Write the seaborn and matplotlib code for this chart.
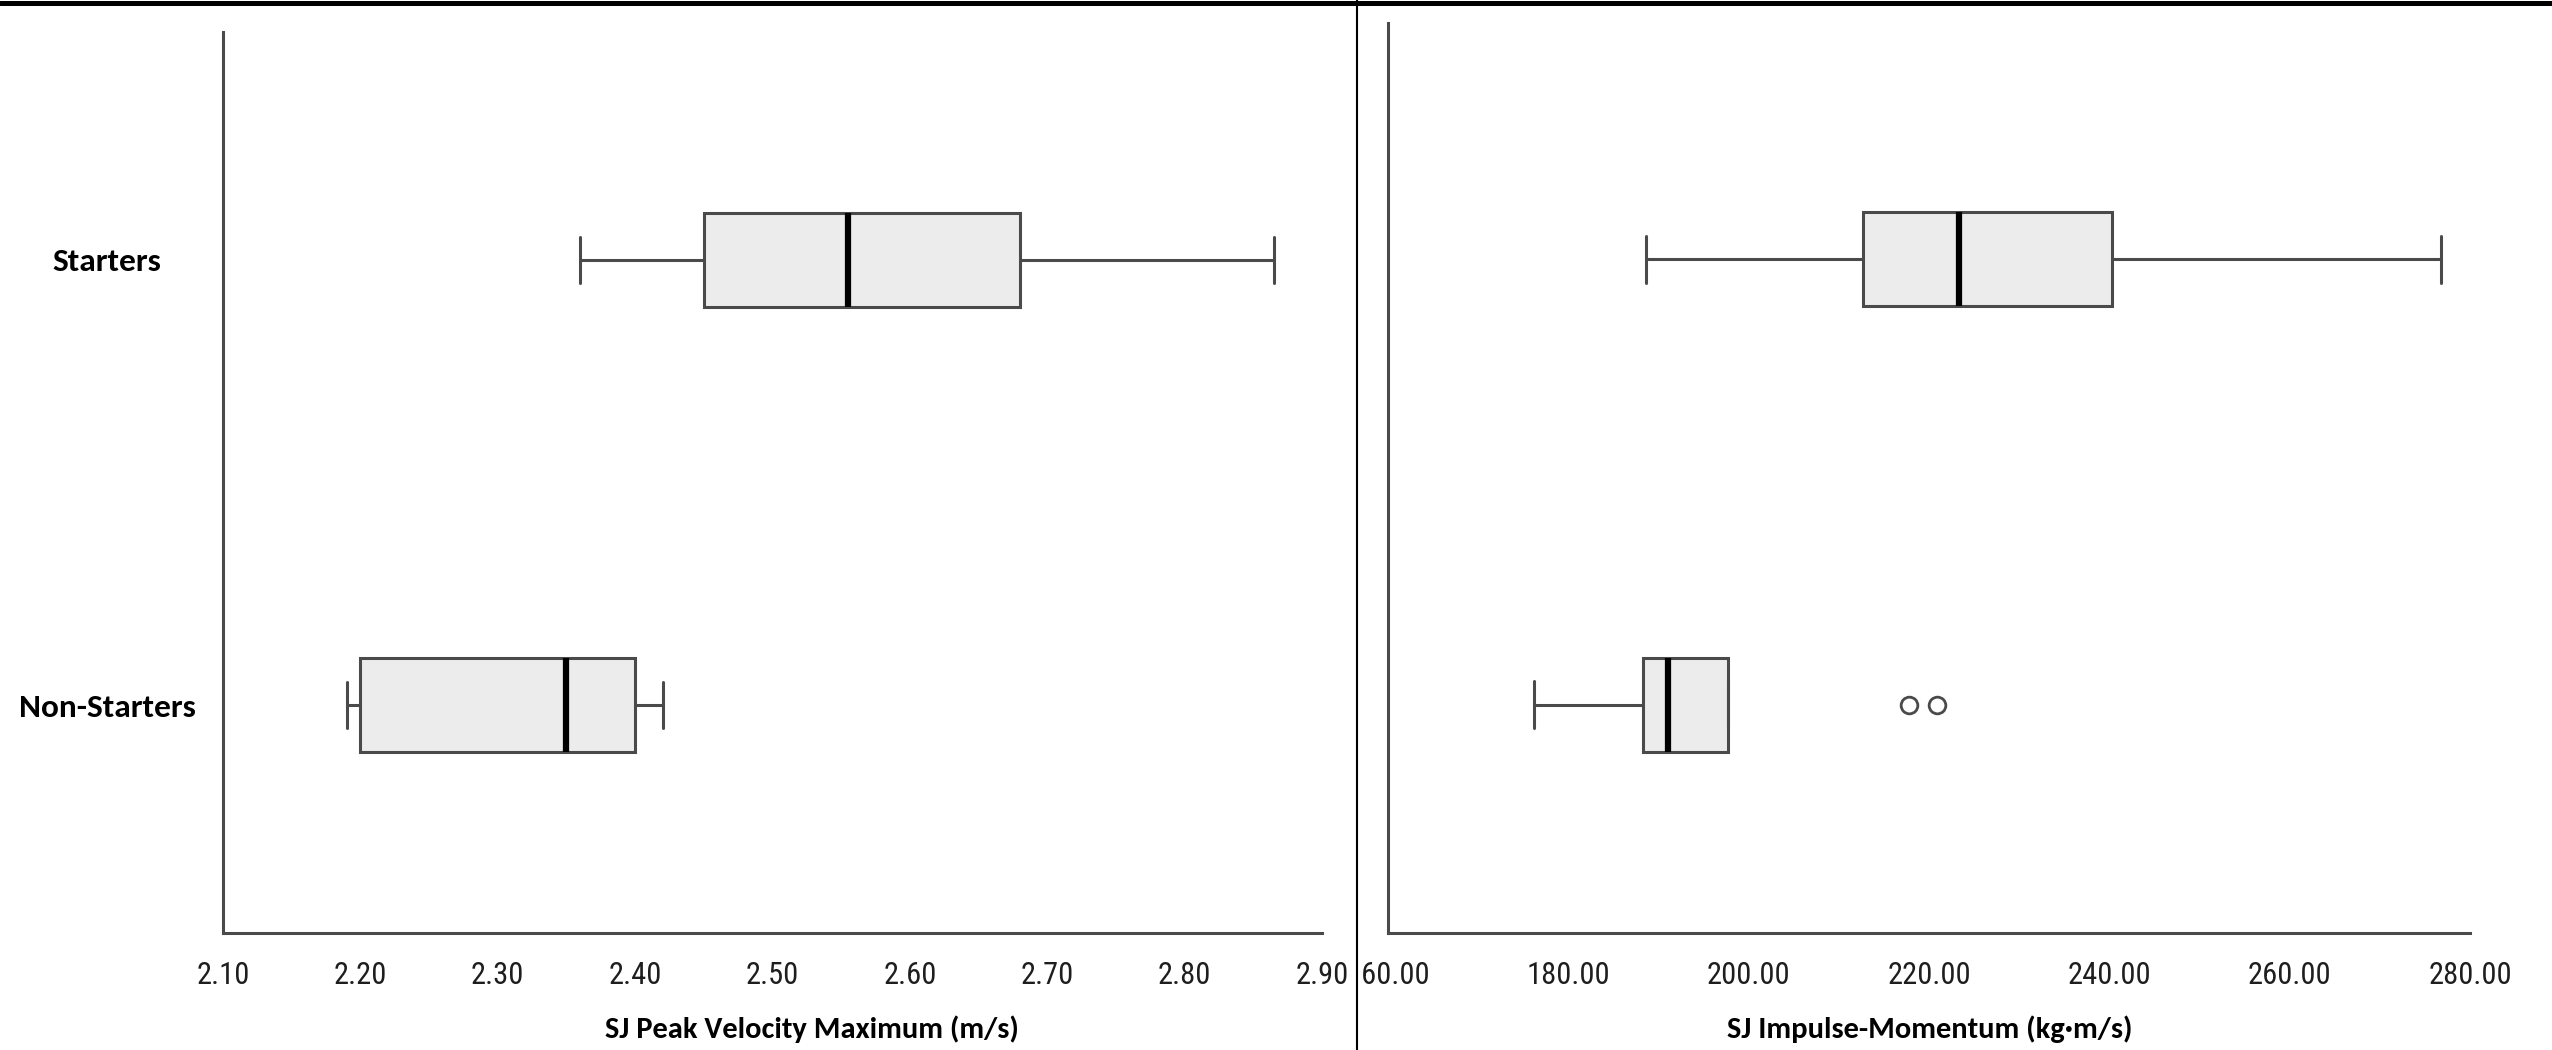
"""
Squat jump box plots: starters vs non-starters (peak velocity, impulse-momentum).
"""

import pandas as pd
import matplotlib.pyplot as plt
from matplotlib import font_manager
from matplotlib.font_manager import FontProperties
from matplotlib.lines import Line2D
from matplotlib.transforms import Bbox, TransformedBbox
import seaborn as sns

# groups, top to bottom
groups = ["Starters", "Non-Starters"]

# five-number summaries: low whisker, Q1, median, Q3, high whisker
velocity_starters = [2.36, 2.45, 2.555, 2.68, 2.865]
velocity_non_starters = [2.19, 2.20, 2.35, 2.40, 2.42]
impulse_starters = [188.6, 212.7, 223.3, 240.3, 276.8]
impulse_non_starters = [176.2, 188.3, 191.1, 197.7, 197.7]
impulse_non_starters_outliers = [217.8, 220.9]

velocity_ticks = [2.10, 2.20, 2.30, 2.40, 2.50, 2.60, 2.70, 2.80, 2.90]
impulse_ticks = [160, 180, 200, 220, 240, 260, 280]

velocity_label = "SJ Peak Velocity Maximum (m/s)"
impulse_label = "SJ Impulse-Momentum (kg·m/s)"

LINE = "#4a4a4a"
BOX_FILL = "#ececec"

ttf = font_manager.fontManager.ttflist
installed = {f.name for f in ttf}


def pick(*names):
    for n in names:
        if n in installed:
            return n
    return "DejaVu Sans"


def narrow_font(size):
    """A condensed regular face for the tick numbers, if one is installed."""
    for name in ["Liberation Sans Narrow", "Arial Narrow", "Roboto Condensed"]:
        if name in installed:
            return FontProperties(family=name, size=size)
    for name in ["Liberation Sans", "Noto Sans", "Open Sans", "DejaVu Sans", "Roboto"]:
        for f in ttf:
            if (f.name == name and "condensed" in str(f.stretch)
                    and str(f.weight) in ("400", "normal", "regular", "book")
                    and f.style == "normal"):
                return FontProperties(fname=f.fname, size=size)
    return FontProperties(family="Liberation Sans", size=size - 2)


TICK_FP = narrow_font(22)
LABEL_FONT = pick("Carlito", "Calibri", "Lato", "Open Sans")

sns.set_theme(style="white")
plt.rcParams["font.family"] = ["Liberation Sans", "DejaVu Sans"]


def expand(stats, outliers=(), k=20):
    """Sample that gives back the five-number summary (and outliers) in a boxplot."""
    lo, q1, med, q3, hi = stats
    return [lo] + [q1] * k + [med] * k + [q3] * k + [hi] + list(outliers)


def frame(starters, non_starters, outliers=()):
    rows = [(groups[0], v) for v in expand(starters)]
    rows += [(groups[1], v) for v in expand(non_starters, outliers)]
    return pd.DataFrame(rows, columns=["group", "value"])


def draw(ax, data, ticks, fmt, xlabel, top, label_x, label_y):
    sns.boxplot(
        data=data, x="value", y="group", order=groups, orient="h",
        width=0.21, color=BOX_FILL, linecolor=LINE, linewidth=2.2,
        saturation=1, whis=1.5, fliersize=12,
        medianprops=dict(color="black", linewidth=4.5),
        flierprops=dict(marker="o", markersize=12, markerfacecolor="white",
                        markeredgecolor=LINE, markeredgewidth=2.0),
        ax=ax,
    )
    ax.set_xlim(ticks[0], ticks[-1])
    ax.set_ylim(1.512, top)
    ax.set_xticks(ticks)
    ax.set_xticklabels([fmt.format(t) for t in ticks])
    for side in ["top", "right"]:
        ax.spines[side].set_visible(False)
    for side in ["left", "bottom"]:
        ax.spines[side].set_color(LINE)
        ax.spines[side].set_linewidth(2.2)
    ax.tick_params(axis="x", length=13, width=1.8, color=LINE, pad=7,
                   labelcolor="#1e1e1e")
    for lbl in ax.get_xticklabels():
        lbl.set_fontproperties(TICK_FP)
    ax.set_xlabel(xlabel, fontfamily=LABEL_FONT, fontweight="bold",
                  fontsize=22, color="black", va="center")
    ax.xaxis.set_label_coords(label_x, label_y)
    ax.set_ylabel("")


fig = plt.figure(figsize=(25.52, 10.5), dpi=100)
fig.patch.set_facecolor("white")

ax1 = fig.add_axes([223 / 2552, 1 - 933 / 1050, 1099 / 2552, 901 / 1050])
ax2 = fig.add_axes([1388 / 2552, 1 - 933 / 1050, 1082 / 2552, 910 / 1050])

draw(ax1, frame(velocity_starters, velocity_non_starters),
     velocity_ticks, "{:.2f}", velocity_label, -0.512,
     (812 - 223) / 1099, -(1029 - 933) / 901)
draw(ax2, frame(impulse_starters, impulse_non_starters, impulse_non_starters_outliers),
     impulse_ticks, "{:.2f}", impulse_label, -0.53,
     (1930 - 1388) / 1082, -(1029 - 933) / 910)

# group names only on the left panel, centred in the margin
ax1.tick_params(axis="y", length=0, pad=83.5)
for lbl in ax1.get_yticklabels():
    lbl.set_ha("center")
    lbl.set_fontfamily(LABEL_FONT)
    lbl.set_fontweight("bold")
    lbl.set_fontsize(24)
    lbl.set_color("black")
ax2.tick_params(axis="y", length=0, labelleft=False)

# panel frame: top rule and divider between the two plots
div_x = 1357 / 2552
fig.add_artist(Line2D([0, 1], [1 - 2.5 / 1050] * 2, transform=fig.transFigure,
                      color="black", linewidth=3.6))
fig.add_artist(Line2D([div_x, div_x], [0, 1], transform=fig.transFigure,
                      color="black", linewidth=1.5))

# the first right-hand tick label is cut by the divider
clip = TransformedBbox(Bbox([[div_x + 1 / 2552, 0], [1, 1]]), fig.transFigure)
for lbl in ax2.get_xticklabels():
    lbl.set_clip_box(clip)
    lbl.set_clip_on(True)

fig.savefig("out.png", dpi=100, facecolor="white")
